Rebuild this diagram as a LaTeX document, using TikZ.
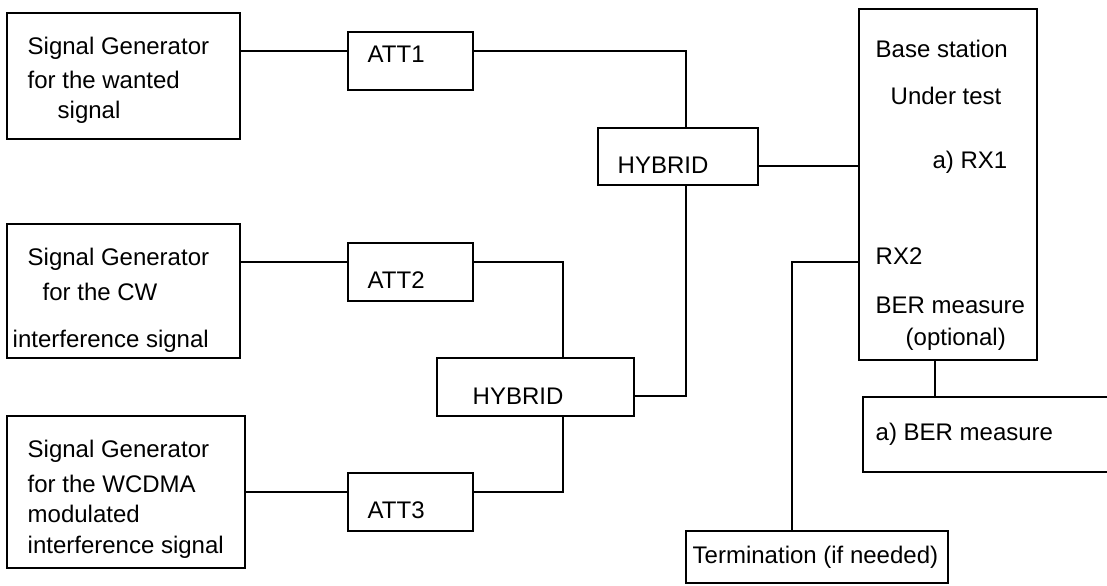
\documentclass[tikz,border=0pt]{standalone}
\usepackage{fontspec}
\setmainfont{Liberation Sans}

\begin{document}
\begin{tikzpicture}[x=0.5pt, y=-0.5pt, line width=0.7pt]
   \useasboundingbox (0,0) rectangle (1107,585);
   \clip (0,0) rectangle (1107,585);
   \tikzset{box/.style={draw, inner sep=0pt}, txt/.style={inner sep=0pt, anchor=base west, font=\fontsize{12}{14}\selectfont}}
   % boxes
   \begin{scope}[every node/.style={box}]
    \node[minimum width=116.5pt, minimum height=63pt] (sg1) at (123.5,76) {};
    \node[minimum width=116.5pt, minimum height=67pt] (sg2) at (123.5,291) {};
    \node[minimum width=119pt, minimum height=76pt] (sg3) at (126,492) {};
    \node[minimum width=62.5pt, minimum height=29pt] (att1) at (410.5,61) {};
    \node[minimum width=62.5pt, minimum height=29pt] (att2) at (410.5,272) {};
    \node[minimum width=62.5pt, minimum height=29pt] (att3) at (410.5,502) {};
    \node[minimum width=80pt, minimum height=28.5pt] (hyb1) at (678,156.5) {};
    \node[minimum width=98.5pt, minimum height=29pt] (hyb2) at (535.5,387) {};
    \node[minimum width=89pt, minimum height=175.5pt, line width=1.4pt] (bs) at (948,184.5) {};
    \node[minimum width=132pt, minimum height=37.5pt] (ber) at (995,434.5) {};
    \node[minimum width=131pt, minimum height=26pt] (term) at (817,557) {};
   \end{scope}
   % texts
   \begin{scope}[every node/.style={txt}]
    \node (sg1a) at (27,54) {Signal Generator};
    \node (sg1b) at (27,88) {for the wanted};
    \node (sg1c) at (57,118) {signal};
    \node (sg2a) at (27,265) {Signal Generator};
    \node (sg2b) at (42,300) {for the CW};
    \node (sg2c) at (12,347) {interference signal};
    \node (sg3a) at (27,457) {Signal Generator};
    \node (sg3b) at (27,492) {for the WCDMA};
    \node (sg3c) at (27,522) {modulated};
    \node (sg3d) at (27,553) {interference signal};
    \node (att1t) at (367,62) {ATT1};
    \node (att2t) at (367,288) {ATT2};
    \node (att3t) at (367,518) {ATT3};
    \node (hyb1t) at (617,173) {HYBRID};
    \node (hyb2t) at (472,404) {HYBRID};
    \node (bsa) at (875,57) {Base station};
    \node (bsb) at (890,104) {Under test};
    \node[anchor=base east] (bsc) at (1008,168) {a) RX1};
    \node (bsd) at (875,264) {RX2};
    \node (bse) at (875,313) {BER measure};
    \node (bsf) at (905,345) {(optional)};
    \node (bert) at (875,440) {a) BER measure};
    \node (termt) at (692,563) {Termination (if needed)};
   \end{scope}
   % bends
   \coordinate (t1) at (686,51);
   \coordinate (t2) at (686,396);
   \coordinate (t3) at (563,262);
   \coordinate (t4) at (563,492);
   \coordinate (t5) at (792,262);
   \coordinate (t6) at (935,0);
   \coordinate (r1) at (859,166);
   % connectors
   \draw (sg1.east |- t1) -- (att1.west |- t1);
   \draw (att1.east |- t1) -| (hyb1.north -| t1);
   \draw (hyb1.east |- r1) -- (bs.west |- r1);
   \draw (hyb1.south -| t1) |- (hyb2.east |- t2);
   \draw (sg2.east |- t3) -- (att2.west |- t3);
   \draw (att2.east |- t3) -| (hyb2.north -| t3);
   \draw (hyb2.south -| t4) |- (att3.east |- t4);
   \draw (sg3.east |- t4) -- (att3.west |- t4);
   \draw (bs.west |- t5) -| (term.north -| t5);
   \draw (bs.south -| t6) -- (ber.north -| t6);
\end{tikzpicture}
\end{document}
